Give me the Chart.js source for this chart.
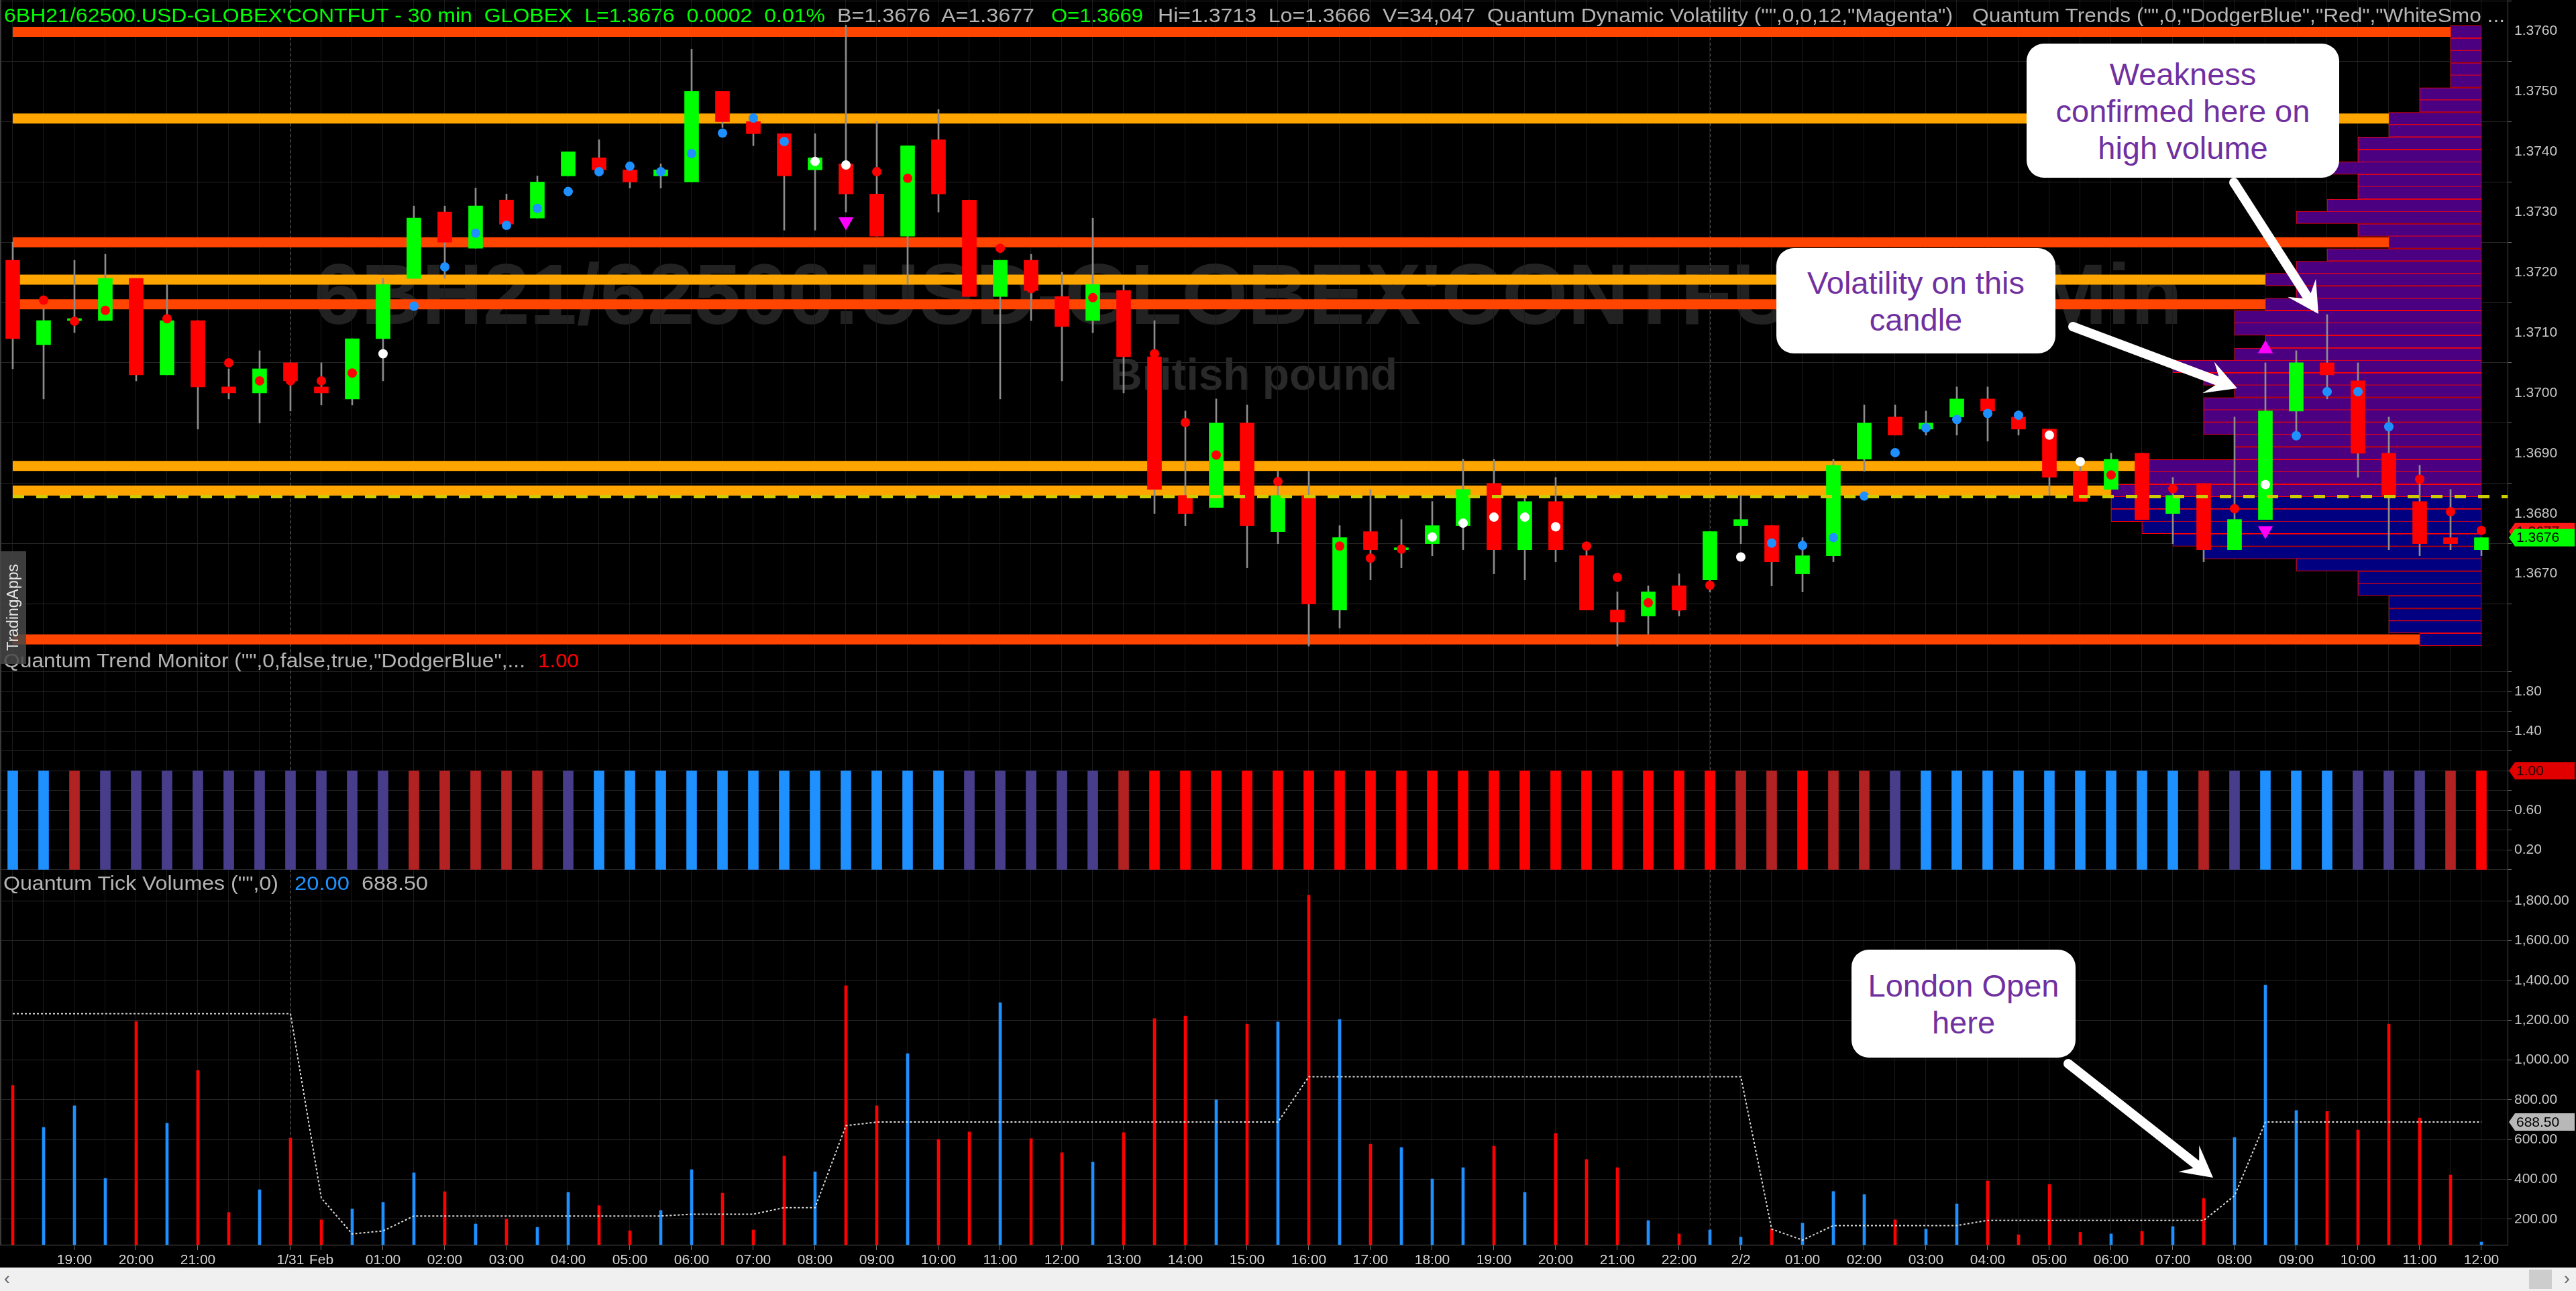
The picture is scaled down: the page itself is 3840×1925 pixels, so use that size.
<!DOCTYPE html>
<html lang="en">
<head>
<meta charset="utf-8">
<title>6BH21/62500.USD-GLOBEX'CONTFUT - 30 min</title>
<script src="https://cdn.jsdelivr.net/npm/chart.js@4.4.1/dist/chart.umd.min.js"></script>
<style>
  html, body { margin: 0; padding: 0; background: #000; }
  body { position: relative; width: 3840px; height: 1925px; overflow: hidden; font-family: "Liberation Sans", Arial, sans-serif; }
  #graficoVelas { position: absolute; left: 0; top: 0; z-index: 1; }
  .marca { position: absolute; z-index: 0; font-weight: bold; white-space: pre; line-height: 1; transform-origin: 0 0; }
  .txt { position: absolute; z-index: 2; white-space: pre; line-height: 1; transform-origin: 0 0; }
  #flechas { position: absolute; left: 0; top: 0; z-index: 3; }
  .globo { position: absolute; z-index: 4; background: #fff; border-radius: 26px; color: #7030a0; font-size: 47px; line-height: 55px; text-align: center; display: flex; align-items: center; justify-content: center; }
  #marcaApps { position: absolute; left: 0; top: 822px; width: 39px; height: 168px; background: rgba(72,72,72,0.85); z-index: 3; display: flex; align-items: center; justify-content: center; }
  #marcaApps span { writing-mode: vertical-rl; transform: rotate(180deg); color: #e6e6e6; font-size: 23px; }
  #bordeIzq { position: absolute; left: 0; top: 0; width: 2px; height: 1856px; background: #3a3a3a; z-index: 2; }
  #barraScroll { position: absolute; left: 0; top: 1890px; width: 3840px; height: 35px; background: #f0f0f0; z-index: 2; }
  #barraScroll .pulgar { position: absolute; left: 3770px; top: 3px; width: 34px; height: 29px; background: #cdcdcd; }
  #barraScroll .flechaScroll { position: absolute; top: 1px; font-size: 26px; color: #606060; }
</style>
</head>
<body>

<div class="marca" data-ancho="2785" style="left:468px;top:375px;font-size:128px;color:#222">6BH21/62500.USD-GLOBEX'CONTFUT - 30 Min</div>
<div class="marca" data-ancho="428" style="left:1655px;top:525px;font-size:66px;color:#292929">British pound</div>

<canvas id="graficoVelas" width="3840" height="1890"></canvas>

<!-- encabezado -->
<div class="txt" data-ancho="1224" style="left:6px;top:8px;font-size:30px;color:#00ff00">6BH21/62500.USD-GLOBEX'CONTFUT - 30 min  GLOBEX  L=1.3676  0.0002  0.01%</div>
<div class="txt" data-ancho="294" style="left:1248px;top:8px;font-size:30px;color:#b4b4b4">B=1.3676  A=1.3677</div>
<div class="txt" data-ancho="137" style="left:1567px;top:8px;font-size:30px;color:#00ff00">O=1.3669</div>
<div class="txt" data-ancho="473" style="left:1726px;top:8px;font-size:30px;color:#b4b4b4">Hi=1.3713  Lo=1.3666  V=34,047</div>
<div class="txt" data-ancho="694" style="left:2217px;top:8px;font-size:30px;color:#b4b4b4">Quantum Dynamic Volatility ("",0,0,12,"Magenta")</div>
<div class="txt" data-ancho="794" style="left:2940px;top:8px;font-size:30px;color:#b4b4b4">Quantum Trends ("",0,"DodgerBlue","Red","WhiteSmo ...</div>

<!-- titulos de los paneles -->
<div class="txt" data-ancho="778" style="left:5px;top:970px;font-size:30px;color:#b4b4b4">Quantum Trend Monitor ("",0,false,true,"DodgerBlue",...</div>
<div class="txt" data-ancho="61" style="left:802px;top:970px;font-size:30px;color:#ff0000">1.00</div>
<div class="txt" data-ancho="410" style="left:5px;top:1302px;font-size:30px;color:#b4b4b4">Quantum Tick Volumes ("",0)</div>
<div class="txt" data-ancho="82" style="left:439px;top:1302px;font-size:30px;color:#1e90ff">20.00</div>
<div class="txt" data-ancho="99" style="left:539px;top:1302px;font-size:30px;color:#b4b4b4">688.50</div>

<div id="bordeIzq"></div>
<div id="marcaApps"><span>TradingApps</span></div>

<svg id="flechas" width="3840" height="1925"></svg>

<div class="globo" style="left:3021px;top:65px;width:466px;height:200px">Weakness<br>confirmed here on<br>high volume</div>
<div class="globo" style="left:2648px;top:370px;width:416px;height:157px">Volatility on this<br>candle</div>
<div class="globo" style="left:2760px;top:1416px;width:334px;height:161px">London Open<br>here</div>

<div id="barraScroll">
  <span class="flechaScroll" style="left:6px">&#8249;</span>
  <div class="pulgar"></div>
  <span class="flechaScroll" style="left:3822px">&#8250;</span>
</div>

<script>
// Datos (velas de 30 min)
const etiquetasHora = ['', '', '19:00', '', '20:00', '', '21:00', '', '', '1/31',
  'Feb', '', '01:00', '', '02:00', '', '03:00', '', '04:00', '',
  '05:00', '', '06:00', '', '07:00', '', '08:00', '', '09:00', '',
  '10:00', '', '11:00', '', '12:00', '', '13:00', '', '14:00', '',
  '15:00', '', '16:00', '', '17:00', '', '18:00', '', '19:00', '',
  '20:00', '', '21:00', '', '22:00', '', '2/2', '', '01:00', '',
  '02:00', '', '03:00', '', '04:00', '', '05:00', '', '06:00', '',
  '07:00', '', '08:00', '', '09:00', '', '10:00', '', '11:00', '',
  '12:00'];

const apertura = [1.3722, 1.3708, 1.3712, 1.3712, 1.3719, 1.3703, 1.3712, 1.3701, 1.3700, 1.3705,
  1.3701, 1.3699, 1.3709, 1.3719, 1.3730, 1.3724, 1.3732, 1.3729, 1.3736, 1.3739,
  1.3737, 1.3736, 1.3735, 1.3750, 1.3745, 1.3743, 1.3737, 1.3738, 1.3733, 1.3726,
  1.3742, 1.3732, 1.3716, 1.3722, 1.3716, 1.3712, 1.3717, 1.3706, 1.3683, 1.3681,
  1.3695, 1.3677, 1.3683, 1.3664, 1.3677, 1.3674, 1.3675, 1.3678, 1.3685, 1.3674,
  1.3682, 1.3673, 1.3664, 1.3663, 1.3668, 1.3669, 1.3678, 1.3678, 1.3670, 1.3673,
  1.3689, 1.3696, 1.3694, 1.3696, 1.3699, 1.3696, 1.3694, 1.3687, 1.3684, 1.3690,
  1.3680, 1.3685, 1.3674, 1.3679, 1.3697, 1.3705, 1.3702, 1.3690, 1.3682, 1.3676,
  1.3674];
const maximo = [1.3725, 1.3714, 1.3722, 1.3723, 1.3719, 1.3718, 1.3712, 1.3704, 1.3707, 1.3705,
  1.3705, 1.3709, 1.3719, 1.3731, 1.3731, 1.3734, 1.3733, 1.3736, 1.3740, 1.3742,
  1.3738, 1.3738, 1.3757, 1.3750, 1.3745, 1.3743, 1.3743, 1.3761, 1.3745, 1.3741,
  1.3747, 1.3732, 1.3722, 1.3723, 1.3720, 1.3729, 1.3718, 1.3712, 1.3697, 1.3699,
  1.3698, 1.3687, 1.3687, 1.3678, 1.3684, 1.3679, 1.3682, 1.3689, 1.3689, 1.3683,
  1.3686, 1.3675, 1.3667, 1.3668, 1.3670, 1.3677, 1.3683, 1.3678, 1.3676, 1.3689,
  1.3698, 1.3698, 1.3697, 1.3701, 1.3701, 1.3697, 1.3694, 1.3688, 1.3690, 1.3690,
  1.3686, 1.3685, 1.3696, 1.3705, 1.3707, 1.3713, 1.3705, 1.3696, 1.3688, 1.3684,
  1.3676];
const minimo = [1.3704, 1.3699, 1.3710, 1.3712, 1.3702, 1.3703, 1.3694, 1.3699, 1.3695, 1.3697,
  1.3698, 1.3698, 1.3702, 1.3719, 1.3719, 1.3724, 1.3728, 1.3729, 1.3736, 1.3736,
  1.3734, 1.3734, 1.3735, 1.3744, 1.3741, 1.3727, 1.3727, 1.3730, 1.3726, 1.3718,
  1.3730, 1.3716, 1.3699, 1.3712, 1.3702, 1.3710, 1.3700, 1.3680, 1.3678, 1.3681,
  1.3671, 1.3675, 1.3658, 1.3661, 1.3669, 1.3671, 1.3673, 1.3674, 1.3670, 1.3669,
  1.3672, 1.3664, 1.3658, 1.3660, 1.3663, 1.3667, 1.3675, 1.3668, 1.3667, 1.3672,
  1.3687, 1.3693, 1.3693, 1.3693, 1.3692, 1.3693, 1.3683, 1.3682, 1.3684, 1.3679,
  1.3675, 1.3672, 1.3674, 1.3679, 1.3693, 1.3699, 1.3686, 1.3674, 1.3673, 1.3674,
  1.3673];
const cierre = [1.3709, 1.3712, 1.3712, 1.3719, 1.3703, 1.3712, 1.3701, 1.3700, 1.3704, 1.3702,
  1.3700, 1.3709, 1.3718, 1.3729, 1.3725, 1.3731, 1.3728, 1.3735, 1.3740, 1.3737,
  1.3735, 1.3737, 1.3750, 1.3745, 1.3743, 1.3736, 1.3739, 1.3733, 1.3726, 1.3741,
  1.3733, 1.3716, 1.3722, 1.3717, 1.3711, 1.3718, 1.3706, 1.3684, 1.3680, 1.3695,
  1.3678, 1.3683, 1.3665, 1.3676, 1.3674, 1.3674, 1.3678, 1.3684, 1.3674, 1.3682,
  1.3674, 1.3664, 1.3662, 1.3667, 1.3664, 1.3677, 1.3679, 1.3672, 1.3673, 1.3688,
  1.3695, 1.3693, 1.3695, 1.3699, 1.3697, 1.3694, 1.3686, 1.3682, 1.3689, 1.3679,
  1.3683, 1.3674, 1.3679, 1.3697, 1.3705, 1.3703, 1.3690, 1.3683, 1.3675, 1.3675,
  1.3676];

// puntos del indicador Quantum Trends
const puntoPrecio = [null, 1.37154, 1.37119, 1.37137, null, 1.37123, null, 1.37050, 1.37020, 1.37020,
  1.37020, 1.37033, 1.37065, 1.37144, 1.37209, 1.37265, 1.37278, 1.37306, 1.37334, 1.37367,
  1.37376, 1.37367, 1.37397, 1.37431, 1.37456, 1.37417, 1.37384, 1.37378, 1.37367, 1.37356,
  null, null, 1.37240, 1.37173, null, 1.37158, null, 1.37065, 1.36951, 1.36897,
  null, 1.36853, null, 1.36746, 1.36726, 1.36741, 1.36761, 1.36784, 1.36794, 1.36794,
  1.36778, 1.36746, 1.36694, 1.36652, 1.36646, 1.36681, 1.36728, 1.36751, 1.36747, 1.36760,
  1.36829, 1.36901, 1.36942, 1.36956, 1.36966, 1.36963, 1.36930, 1.36886, 1.36864, null,
  1.36841, null, 1.36808, 1.36848, 1.36929, 1.37002, 1.37002, 1.36944, 1.36857, 1.36803,
  1.36772];
const puntoTipo = [null, 'rojo', 'rojo', 'rojo', null, 'rojo', null, 'rojo', 'rojo', 'rojo',
  'rojo', 'rojo', 'blanco', 'azul', 'azul', 'azul', 'azul', 'azul', 'azul', 'azul',
  'azul', 'azul', 'azul', 'azul', 'azul', 'azul', 'blanco', 'blanco', 'rojo', 'rojo',
  null, null, 'rojo', 'rojo', null, 'rojo', null, 'rojo', 'rojo', 'rojo',
  null, 'rojo', null, 'rojo', 'rojo', 'rojo', 'blanco', 'blanco', 'blanco', 'blanco',
  'blanco', 'rojo', 'rojo', 'rojo', 'rojo', 'rojo', 'blanco', 'azul', 'azul', 'azul',
  'azul', 'azul', 'azul', 'azul', 'azul', 'azul', 'blanco', 'blanco', 'rojo', null,
  'rojo', null, 'rojo', 'blanco', 'azul', 'azul', 'azul', 'azul', 'rojo', 'rojo',
  'rojo'];

// triangulos de volatilidad (Quantum Dynamic Volatility)
const trianguloIndice = [27, 73, 73];
const trianguloPrecio = [1.37284, 1.37073, 1.36772];
const trianguloDireccion = ['abajo', 'arriba', 'abajo'];

// soportes / resistencias
const nivelesPrecio = [1.37599, 1.37455, 1.37250, 1.37188, 1.37147, 1.36879, 1.36838, 1.36591];
const nivelesTipo = ['fuerte', 'medio', 'fuerte', 'medio', 'fuerte', 'medio', 'medio', 'fuerte'];
const nivelPOC = 1.36828;

// perfil de volumen a la derecha (filas de precio y cuantas velas ocupa)
const perfilPrecio = [1.37599, 1.37578, 1.37558, 1.37537, 1.37517, 1.37496, 1.37476, 1.37455, 1.37435, 1.37414,
  1.37393, 1.37373, 1.37352, 1.37332, 1.37311, 1.37291, 1.37270, 1.37250, 1.37229, 1.37208,
  1.37188, 1.37167, 1.37147, 1.37126, 1.37106, 1.37085, 1.37064, 1.37044, 1.37023, 1.37003,
  1.36982, 1.36962, 1.36941, 1.36921, 1.36900, 1.36879, 1.36859, 1.36838, 1.36818, 1.36797,
  1.36777, 1.36756, 1.36735, 1.36715, 1.36694, 1.36674, 1.36653, 1.36632, 1.36612, 1.36591];
const perfilConteo = [1, 1, 1, 1, 1, 2, 2, 3, 3, 4,
  4, 5, 4, 4, 5, 6, 4, 3, 5, 6,
  7, 6, 7, 8, 8, 7, 8, 10, 9, 8,
  9, 9, 9, 8, 8, 11, 11, 12, 12, 12,
  11, 10, 9, 6, 4, 4, 3, 3, 3, 2];

// Quantum Trend Monitor
const tendencia = ['alc', 'alc', 'deb', 'neu', 'neu', 'neu', 'neu', 'neu', 'neu', 'neu',
  'neu', 'neu', 'neu', 'deb', 'deb', 'deb', 'deb', 'deb', 'neu', 'alc',
  'alc', 'alc', 'alc', 'alc', 'alc', 'alc', 'alc', 'alc', 'alc', 'alc',
  'alc', 'neu', 'neu', 'neu', 'neu', 'neu', 'deb', 'baj', 'baj', 'baj',
  'baj', 'baj', 'baj', 'baj', 'baj', 'baj', 'baj', 'baj', 'baj', 'baj',
  'baj', 'baj', 'baj', 'baj', 'baj', 'baj', 'deb', 'deb', 'baj', 'deb',
  'deb', 'neu', 'alc', 'alc', 'alc', 'alc', 'alc', 'alc', 'alc', 'alc',
  'alc', 'deb', 'neu', 'alc', 'alc', 'alc', 'neu', 'neu', 'neu', 'deb',
  'baj'];
const valorTendencia = [1, 1, 1, 1, 1, 1, 1, 1, 1, 1,
  1, 1, 1, 1, 1, 1, 1, 1, 1, 1,
  1, 1, 1, 1, 1, 1, 1, 1, 1, 1,
  1, 1, 1, 1, 1, 1, 1, 1, 1, 1,
  1, 1, 1, 1, 1, 1, 1, 1, 1, 1,
  1, 1, 1, 1, 1, 1, 1, 1, 1, 1,
  1, 1, 1, 1, 1, 1, 1, 1, 1, 1,
  1, 1, 1, 1, 1, 1, 1, 1, 1, 1,
  1];
const ticksTendencia = [0.2, 0.6, 1.0, 1.4, 1.8];

// Quantum Tick Volumes
const volumen = [872, 661, 770, 405, 1194, 682, 948, 234, 348, 607,
  197, 251, 285, 433, 338, 176, 200, 159, 335, 268,
  142, 244, 449, 331, 146, 517, 438, 1373, 770, 1032,
  601, 638, 1288, 605, 534, 487, 635, 1208, 1221, 800,
  1180, 1191, 1828, 1204, 577, 560, 402, 459, 567, 335,
  631, 500, 459, 193, 126, 146, 110, 152, 180, 339,
  324, 197, 150, 277, 392, 122, 375, 134, 126, 139,
  163, 305, 611, 1376, 746, 741, 648, 1180, 708, 422,
  85];
const volumenMedio = [1233, 1233, 1233, 1233, 1233, 1233, 1233, 1233, 1233, 1233,
  306, 126, 141, 216, 216, 216, 216, 216, 216, 216,
  216, 216, 225, 225, 225, 258, 258, 670, 688, 688,
  688, 688, 688, 688, 688, 688, 688, 688, 688, 688,
  688, 688, 916, 916, 916, 916, 916, 916, 916, 916,
  916, 916, 916, 916, 916, 916, 916, 150, 95, 168,
  168, 168, 168, 168, 194, 194, 194, 194, 194, 194,
  194, 194, 318, 688.5, 688.5, 688.5, 688.5, 688.5, 688.5, 688.5,
  688.5];

const cortesSesion = [9, 55];
const precioCompra = 1.3677;
const precioUltimo = 1.3676;
const tendenciaUltima = 1.00;
const volumenMedioUltimo = 688.50;

// ---- colores ----
const colorVela = { sube: '#00ff00', baja: '#ff0000' };
const colorVolumen = { sube: '#1e90ff', baja: '#ff0000' };
const colorPunto = { rojo: '#ff0000', azul: '#1e90ff', blanco: '#ffffff' };
const colorTendencia = { alc: '#1e90ff', neu: '#483d8b', deb: '#b22222', baj: '#ff0000' };
const colorNivel = { fuerte: '#ff4500', medio: '#ffa500' };

const indices = etiquetasHora.map((_, i) => i);
const ultimo = indices.length - 1;
const sube = cierre.map((c, i) => c >= apertura[i]);

// ventana visible del eje x (una vela = 46px)
const vistaMin = -0.413;
const vistaMax = 80.848;

Chart.defaults.font.family = "'Liberation Sans', Arial, sans-serif";
Chart.defaults.color = '#c8c8c8';

const datasets = [];

// lineas horizontales de soporte/resistencia (debajo de todo)
nivelesPrecio.forEach((nivel, k) => {
  datasets.push({
    type: 'line', yAxisID: 'yPrice', order: 20,
    data: [{ x: 0, y: nivel }, { x: ultimo, y: nivel }],
    borderColor: colorNivel[nivelesTipo[k]], borderWidth: 15, pointRadius: 0
  });
});

// perfil de volumen (barras horizontales ancladas a la ultima vela)
datasets.push({
  type: 'bar', indexAxis: 'y', xAxisID: 'x', yAxisID: 'yPrice', order: 15,
  data: perfilPrecio.map((p, k) => ({ y: p, x: [ultimo - perfilConteo[k], ultimo] })),
  backgroundColor: perfilPrecio.map(p => p > nivelPOC ? '#4b0082' : '#000080'),
  borderColor: '#ff0000', borderWidth: 1, borderSkipped: false,
  barThickness: 18.5, grouped: false
});

// mechas
datasets.push({
  type: 'bar', yAxisID: 'yPrice', order: 12,
  data: indices.map(i => [minimo[i], maximo[i]]),
  backgroundColor: '#8c8c8c', barThickness: 2, grouped: false
});

// cuerpos de las velas
datasets.push({
  type: 'bar', yAxisID: 'yPrice', order: 11,
  data: indices.map(i => [apertura[i], cierre[i]]),
  backgroundColor: sube.map(s => s ? colorVela.sube : colorVela.baja),
  barThickness: 21, minBarLength: 3, grouped: false
});

// puntos
datasets.push({
  type: 'line', yAxisID: 'yPrice', order: 5, showLine: false,
  data: puntoPrecio,
  pointRadius: puntoTipo.map(t => t ? 7 : 0),
  pointBackgroundColor: puntoTipo.map(t => t ? colorPunto[t] : 'transparent'),
  pointBorderWidth: 0
});

// triangulos magenta
datasets.push({
  type: 'line', yAxisID: 'yPrice', order: 4, showLine: false,
  data: trianguloIndice.map((i, k) => ({ x: i, y: trianguloPrecio[k] })),
  pointStyle: 'triangle', pointRadius: 13,
  pointRotation: trianguloDireccion.map(d => d === 'abajo' ? 180 : 0),
  pointBackgroundColor: '#ff00ff', pointBorderWidth: 0
});

// linea amarilla discontinua
datasets.push({
  type: 'line', yAxisID: 'yPrice', order: 3,
  data: [{ x: 0, y: nivelPOC }, { x: vistaMax, y: nivelPOC }],
  borderColor: '#cccc00', borderWidth: 5, borderDash: [17, 18], pointRadius: 0
});

// trend monitor
datasets.push({
  type: 'bar', yAxisID: 'yTrend', order: 6,
  data: valorTendencia,
  backgroundColor: tendencia.map(t => colorTendencia[t]),
  barThickness: 15, grouped: false
});

// volumen por vela
datasets.push({
  type: 'bar', yAxisID: 'yVol', order: 6,
  data: volumen,
  backgroundColor: sube.map(s => s ? colorVolumen.sube : colorVolumen.baja),
  barThickness: 4, grouped: false
});

// media del volumen (punteada)
datasets.push({
  type: 'line', yAxisID: 'yVol', order: 2,
  data: volumenMedio,
  borderColor: '#dcdcdc', borderWidth: 2, borderDash: [3, 3], pointRadius: 0, tension: 0
});

// etiquetas de ultimo valor en el eje derecho
const etiquetasEje = [
  { eje: 'yPrice', valor: precioCompra, fondo: '#ff1a1a', texto: '#3a0000', fmt: v => v.toFixed(4) },
  { eje: 'yPrice', valor: precioUltimo, fondo: '#00ff00', texto: '#000000', fmt: v => v.toFixed(4) },
  { eje: 'yTrend', valor: tendenciaUltima, fondo: '#e00000', texto: '#1a0000', fmt: v => v.toFixed(2) },
  { eje: 'yVol', valor: volumenMedioUltimo, fondo: '#b8b8b8', texto: '#000000', fmt: v => v.toFixed(2) }
];

const extras = {
  id: 'extras',
  beforeDatasetsDraw(chart) {
    const { ctx, chartArea, scales } = chart;
    ctx.save();
    ctx.strokeStyle = '#555';
    ctx.lineWidth = 1;
    ctx.setLineDash([4, 4]);
    cortesSesion.forEach(i => {
      const x = Math.round(scales.x.getPixelForValue(i)) + 0.5;
      ctx.beginPath();
      ctx.moveTo(x, chartArea.top);
      ctx.lineTo(x, chartArea.bottom);
      ctx.stroke();
    });
    ctx.restore();
  },
  afterDraw(chart) {
    const ctx = chart.ctx;
    const x0 = chart.chartArea.right + 2;
    const x1 = chart.width - 2;
    const h = 26;
    ctx.save();
    ctx.font = "21px 'Liberation Sans', Arial, sans-serif";
    ctx.textBaseline = 'middle';
    etiquetasEje.forEach(e => {
      const y = chart.scales[e.eje].getPixelForValue(e.valor);
      ctx.fillStyle = e.fondo;
      ctx.beginPath();
      ctx.moveTo(x0, y);
      ctx.lineTo(x0 + 9, y - h / 2);
      ctx.lineTo(x1, y - h / 2);
      ctx.lineTo(x1, y + h / 2);
      ctx.lineTo(x0 + 9, y + h / 2);
      ctx.closePath();
      ctx.fill();
      ctx.fillStyle = e.texto;
      ctx.fillText(e.fmt(e.valor), x0 + 11, y + 1);
    });
    ctx.restore();
  }
};

const ejeDerecho = (peso, min, max, paso, formato) => ({
  type: 'linear', position: 'right', stack: 'paneles', stackWeight: peso,
  min: min, max: max, beginAtZero: false, offset: false,
  afterFit: (s) => { s.width = 102; s.paddingTop = 0; s.paddingBottom = 0; },
  border: { color: '#4a4a4a' },
  grid: { color: '#262626', tickLength: 6, tickColor: '#666' },
  ticks: { stepSize: paso, includeBounds: false, autoSkip: false, padding: 4, crossAlign: 'near',
           color: '#c8c8c8', font: { size: 21 }, callback: formato }
});

const ctx = document.getElementById('graficoVelas').getContext('2d');
new Chart(ctx, {
  type: 'bar',
  data: { labels: indices, datasets: datasets },
  options: {
    responsive: false,
    animation: false,
    devicePixelRatio: 1,
    events: [],
    layout: { padding: 0, autoPadding: false },
    plugins: { legend: { display: false }, tooltip: { enabled: false } },
    scales: {
      x: {
        type: 'linear', min: vistaMin, max: vistaMax, offset: false,
        afterFit: (s) => { s.height = 34; s.paddingLeft = 0; s.paddingRight = 0; },
        border: { color: '#555' },
        grid: {
          color: '#1b1b1b', offset: false, tickLength: 8,
          tickColor: (c) => (c.tick && etiquetasHora[c.tick.value]) ? '#777' : 'rgba(0,0,0,0)'
        },
        ticks: {
          stepSize: 1, autoSkip: false, maxRotation: 0, minRotation: 0, includeBounds: false,
          padding: 3, color: '#d4d4d4', font: { size: 21 },
          callback: (v) => etiquetasHora[v] ?? ''
        }
      },
      yPrice: ejeDerecho(967, 1.365761, 1.376517, 0.001, (v) => v < 1.3665 ? '' : v.toFixed(4)),
      yTrend: ejeDerecho(331, -0.008, 2.236, 0.2, (v) => {
        if (v > 2.05) return null;
        return ticksTendencia.some(t => Math.abs(t - v) < 1e-6) ? v.toFixed(2) : '';
      }),
      yVol: ejeDerecho(558, 71.6, 1952.3, 200, (v) =>
        v.toLocaleString('en-US', { minimumFractionDigits: 2, maximumFractionDigits: 2 }))
    }
  },
  plugins: [extras]
});

// flechas blancas de las notas
function flecha(x1, y1, x2, y2) {
  const dx = x2 - x1, dy = y2 - y1, largo = Math.hypot(dx, dy);
  const ux = dx / largo, uy = dy / largo, px = -uy, py = ux;
  const w = 7, L = 46, H = 25, N = 14;
  const p = (d, s) => [x2 - ux * d + px * s, y2 - uy * d + py * s];
  const pts = [[x1 + px * w, y1 + py * w], p(L - N, w), p(L, H), [x2, y2], p(L, -H), p(L - N, -w), [x1 - px * w, y1 - py * w]];
  return '<polygon points="' + pts.map(q => q[0].toFixed(1) + ',' + q[1].toFixed(1)).join(' ') + '" fill="#fff"/>' +
         '<circle cx="' + x1 + '" cy="' + y1 + '" r="' + w + '" fill="#fff"/>';
}
document.getElementById('flechas').innerHTML =
  flecha(3330, 272, 3456, 468) +
  flecha(3090, 487, 3335, 579) +
  flecha(3083, 1586, 3299, 1756);

// ajustar el ancho de los textos al de la captura
document.querySelectorAll('[data-ancho]').forEach(el => {
  const ancho = parseFloat(el.dataset.ancho);
  const real = el.getBoundingClientRect().width;
  if (real > 0) el.style.transform = 'scaleX(' + (ancho / real) + ')';
});
</script>
</body>
</html>
